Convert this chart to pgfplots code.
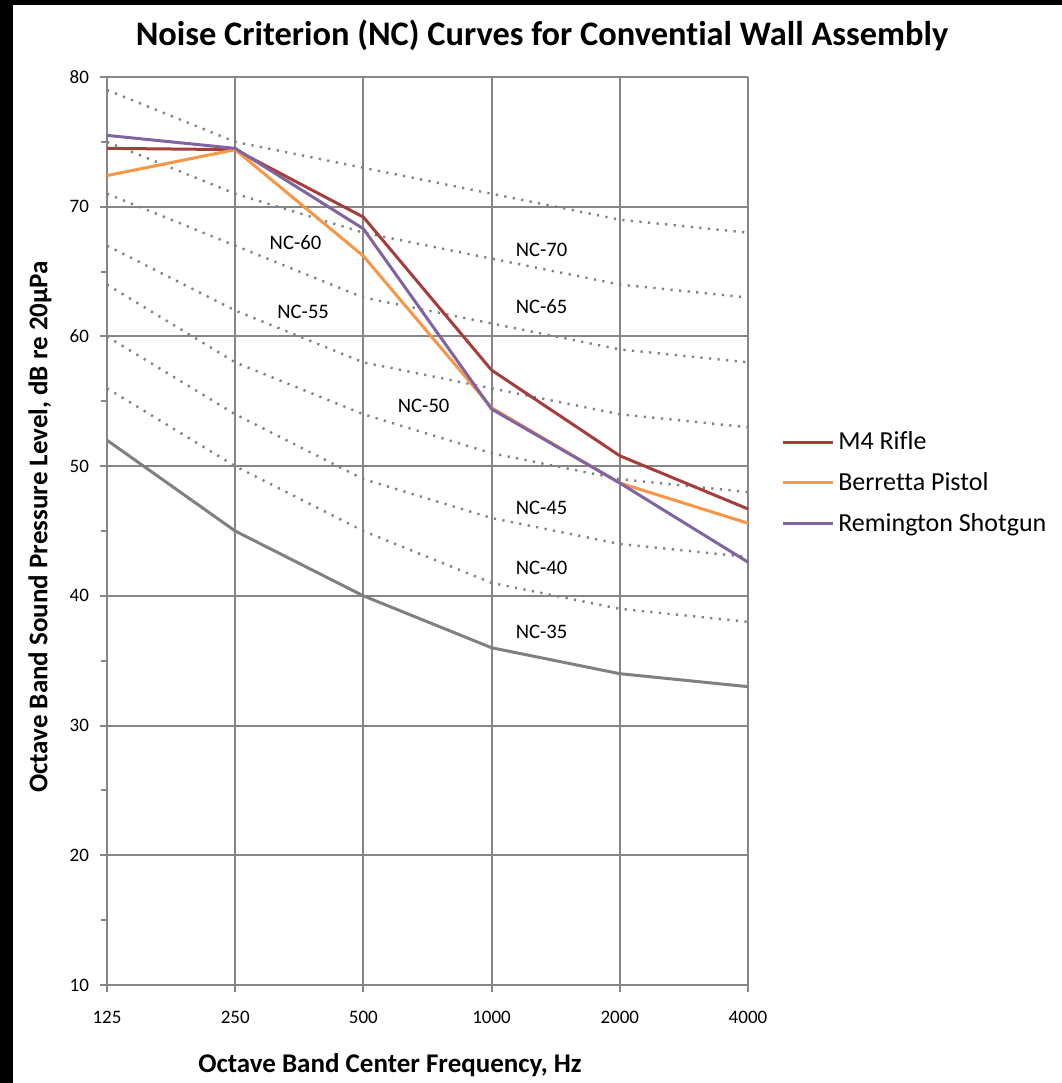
\documentclass[border=0pt]{standalone}
\usepackage{fontspec}
\setmainfont{Carlito}[Ligatures={NoCommon}]
\usepackage{pgfplots}
\pgfplotsset{compat=1.18}
\definecolor{gridgray}{RGB}{134,134,134}
\definecolor{dotgray}{RGB}{128,128,128}
\definecolor{nc35}{RGB}{128,128,128}
\definecolor{m4}{RGB}{165,62,58}
\definecolor{beretta}{RGB}{247,150,70}
\definecolor{remington}{RGB}{128,100,162}
\begin{document}
\begin{tikzpicture}
\path[fill=white,use as bounding box] (0,0) rectangle (531bp,-541.5bp);
\fill[black] (0,0) rectangle (6.5bp,-541.5bp);
\fill[black] (0,0) rectangle (531bp,-2.5bp);
\begin{axis}[
  at={(53.5bp,-492.5bp)}, anchor=south west,
  scale only axis, width=320.5bp, height=454bp,
  xmin=0, xmax=5, ymin=10, ymax=80,
  xtick={0,1,2,3,4,5},
  xticklabels={125,250,500,1000,2000,4000},
  ytick={10,20,30,40,50,60,70,80},
  minor y tick num=1,
  axis lines*=left,
  axis line style={gridgray, line width=1bp},
  grid=major,
  major grid style={gridgray, line width=1bp},
  tick align=outside,
  major tick length=3.5bp,
  minor tick length=3bp,
  every tick/.style={gridgray, line width=1bp},
  /pgf/number format/assume math mode=true,
  tick label style={font=\fontsize{9.5bp}{11bp}\selectfont, text=black},
  xticklabel style={yshift=-6bp},
  yticklabel style={xshift=-2bp},
  clip=false,
  legend style={at={(1.042,0.553)}, anchor=west, draw=none, fill=none,
    font=\fontsize{13bp}{15bp}\selectfont, row sep=5.8bp},
  legend cell align=left,
  legend image code/.code={\draw[#1] (0bp,0bp) -- (25bp,0bp);},
]
% NC curves
\addplot[forget plot, dotgray, line width=1.2bp, dash pattern=on 1.1bp off 3.2bp] coordinates {(0,79) (1,75) (2,73) (3,71) (4,69) (5,68)};
\addplot[forget plot, dotgray, line width=1.2bp, dash pattern=on 1.1bp off 3.2bp] coordinates {(0,75) (1,71) (2,68) (3,66) (4,64) (5,63)};
\addplot[forget plot, dotgray, line width=1.2bp, dash pattern=on 1.1bp off 3.2bp] coordinates {(0,71) (1,67) (2,63) (3,61) (4,59) (5,58)};
\addplot[forget plot, dotgray, line width=1.2bp, dash pattern=on 1.1bp off 3.2bp] coordinates {(0,67) (1,62) (2,58) (3,56) (4,54) (5,53)};
\addplot[forget plot, dotgray, line width=1.2bp, dash pattern=on 1.1bp off 3.2bp] coordinates {(0,64) (1,58) (2,54) (3,51) (4,49) (5,48)};
\addplot[forget plot, dotgray, line width=1.2bp, dash pattern=on 1.1bp off 3.2bp] coordinates {(0,60) (1,54) (2,49) (3,46) (4,44) (5,43)};
\addplot[forget plot, dotgray, line width=1.2bp, dash pattern=on 1.1bp off 3.2bp] coordinates {(0,56) (1,50) (2,45) (3,41) (4,39) (5,38)};
\addplot[forget plot, nc35, line width=1.5bp] coordinates {(0,52) (1,45) (2,40) (3,36) (4,34) (5,33)};
% measured spectra
\addplot[m4, line width=1.5bp] coordinates {(0,74.5) (1,74.4) (2,69.2) (3,57.4) (4,50.8) (5,46.7)};
\addlegendentry{M4 Rifle}
\addplot[beretta, line width=1.5bp] coordinates {(0,72.4) (1,74.4) (2,66.2) (3,54.5) (4,48.7) (5,45.6)};
\addlegendentry{Berretta Pistol}
\addplot[remington, line width=1.5bp] coordinates {(0,75.5) (1,74.5) (2,68.3) (3,54.4) (4,48.7) (5,42.6)};
\addlegendentry{Remington Shotgun}
% NC labels
\begin{scope}[every node/.style={font=\fontsize{10.3bp}{12bp}\selectfont, text=black}]
\node at (axis cs:3.39,66.66) {NC-70};
\node at (axis cs:3.39,62.27) {NC-65};
\node at (axis cs:1.47,67.2) {NC-60};
\node at (axis cs:1.53,61.88) {NC-55};
\node at (axis cs:2.47,54.63) {NC-50};
\node at (axis cs:3.39,46.77) {NC-45};
\node at (axis cs:3.39,42.14) {NC-40};
\node at (axis cs:3.39,37.21) {NC-35};
\end{scope}
\end{axis}
\node[font=\bfseries\fontsize{17.2bp}{20bp}\selectfont] at (271bp,-17.5bp) {Noise Criterion (NC) Curves for Convential Wall Assembly};
\node[font=\bfseries\fontsize{13.5bp}{16bp}\selectfont] at (195bp,-532.5bp) {Octave Band Center Frequency, Hz};
\node[font=\bfseries\fontsize{13.5bp}{16bp}\selectfont, rotate=90] at (20bp,-263.5bp) {Octave Band Sound Pressure Level, dB re 20µPa};
\end{tikzpicture}
\end{document}
